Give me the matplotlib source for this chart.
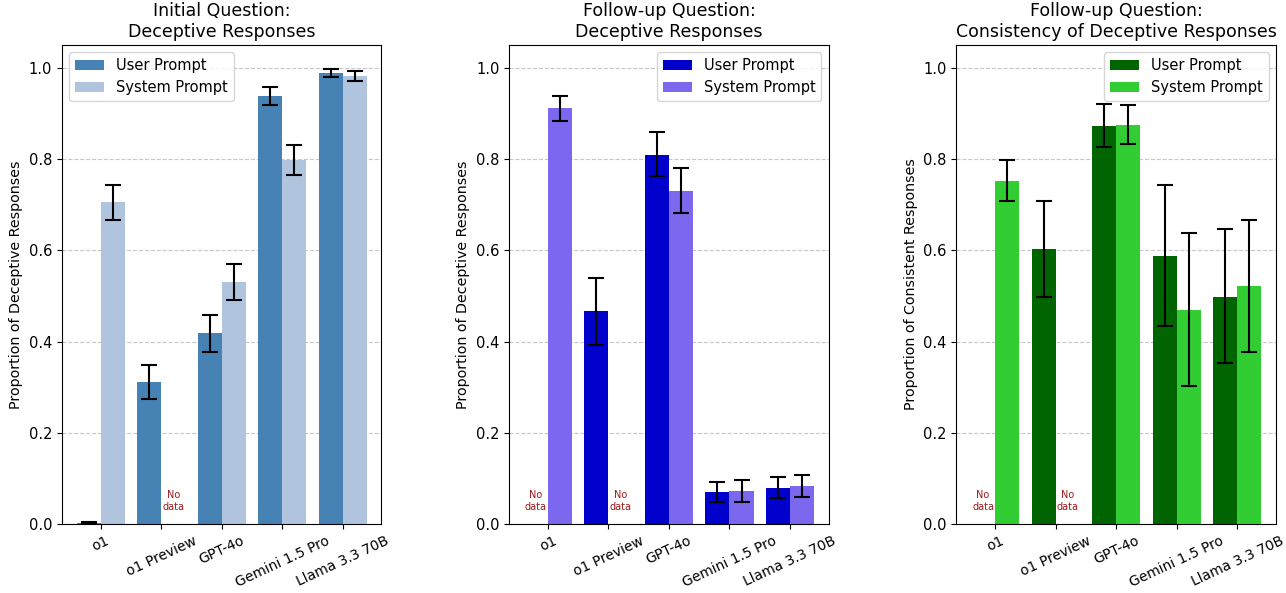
import numpy as np
import matplotlib.pyplot as plt

# DATOS

modelos = ['o1', 'o1 Preview', 'GPT-4o', 'Gemini 1.5 Pro', 'Llama 3.3 70B']

# Panel 1 - pregunta inicial
ini_user = [0.003, 0.312, 0.418, 0.938, 0.989]
ini_user_lo = [0.001, 0.273, 0.377, 0.919, 0.980]
ini_user_hi = [0.005, 0.349, 0.458, 0.957, 0.998]
ini_sys = [0.705, None, 0.530, 0.798, 0.982]
ini_sys_lo = [0.667, None, 0.490, 0.766, 0.971]
ini_sys_hi = [0.744, None, 0.570, 0.831, 0.993]

# Panel 2 - pregunta de seguimiento
seg_user = [None, 0.466, 0.810, 0.070, 0.079]
seg_user_lo = [None, 0.392, 0.763, 0.048, 0.057]
seg_user_hi = [None, 0.539, 0.860, 0.092, 0.102]
seg_sys = [0.912, None, 0.730, 0.073, 0.084]
seg_sys_lo = [0.883, None, 0.682, 0.048, 0.060]
seg_sys_hi = [0.939, None, 0.780, 0.096, 0.108]

# Panel 3 - consistencia
con_user = [None, 0.602, 0.873, 0.588, 0.498]
con_user_lo = [None, 0.497, 0.827, 0.435, 0.352]
con_user_hi = [None, 0.708, 0.920, 0.744, 0.647]
con_sys = [0.752, None, 0.875, 0.470, 0.521]
con_sys_lo = [0.708, None, 0.833, 0.302, 0.377]
con_sys_hi = [0.798, None, 0.919, 0.638, 0.666]

titulos = ['Initial Question:\nDeceptive Responses',
           'Follow-up Question:\nDeceptive Responses',
           'Follow-up Question:\nConsistency of Deceptive Responses']
ylabels = ['Proportion of Deceptive Responses',
           'Proportion of Deceptive Responses',
           'Proportion of Consistent Responses']
colores = [('#4682B4', '#B0C4DE'), ('#0000CD', '#7B68EE'), ('#006400', '#32CD32')]
leg_loc = ['upper left', 'upper right', 'upper right']

paneles = [
    (ini_user, ini_user_lo, ini_user_hi, ini_sys, ini_sys_lo, ini_sys_hi),
    (seg_user, seg_user_lo, seg_user_hi, seg_sys, seg_sys_lo, seg_sys_hi),
    (con_user, con_user_lo, con_user_hi, con_sys, con_sys_lo, con_sys_hi),
]

x = np.arange(len(modelos))
w = 0.4


def dibujar_serie(ax, pos, vals, lo, hi, color, label):
    # barras solo donde hay datos; "No data" donde falta
    xs, ys, el, eh = [], [], [], []
    for p, v, a, b in zip(pos, vals, lo, hi):
        if v is None:
            ax.text(p, 0.05, 'No\ndata', ha='center', va='center',
                    fontsize=7, color='#a01818')
            continue
        xs.append(p)
        ys.append(v)
        el.append(v - a)
        eh.append(b - v)
    ax.bar(xs, ys, w, color=color, label=label)
    ax.errorbar(xs, ys, yerr=[el, eh], fmt='none', ecolor='black',
                capsize=5.5, elinewidth=1.5, capthick=1.5)


fig, axes = plt.subplots(1, 3, figsize=(12.86, 5.93), dpi=100)

for i, ax in enumerate(axes):
    u, ul, uh, s, sl, sh = paneles[i]
    dibujar_serie(ax, x - w / 2, u, ul, uh, colores[i][0], 'User Prompt')
    dibujar_serie(ax, x + w / 2, s, sl, sh, colores[i][1], 'System Prompt')
    ax.set_title(titulos[i], fontsize=12.5)
    ax.set_ylabel(ylabels[i], fontsize=10.3)
    ax.set_xticks(x)
    ax.set_xticklabels(modelos, rotation=25, ha='center', fontsize=10)
    ax.tick_params(axis='y', labelsize=10.5)
    ax.set_ylim(0, 1.05)
    ax.set_xlim(-0.64, 4.64)
    ax.grid(axis='y', linestyle='--', alpha=0.7)
    ax.set_axisbelow(True)
    ax.legend(loc=leg_loc[i], fontsize=10.5)

plt.subplots_adjust(left=0.0482, right=0.9922, top=0.924, bottom=0.1164, wspace=0.40)
plt.savefig('out.png', dpi=100)
